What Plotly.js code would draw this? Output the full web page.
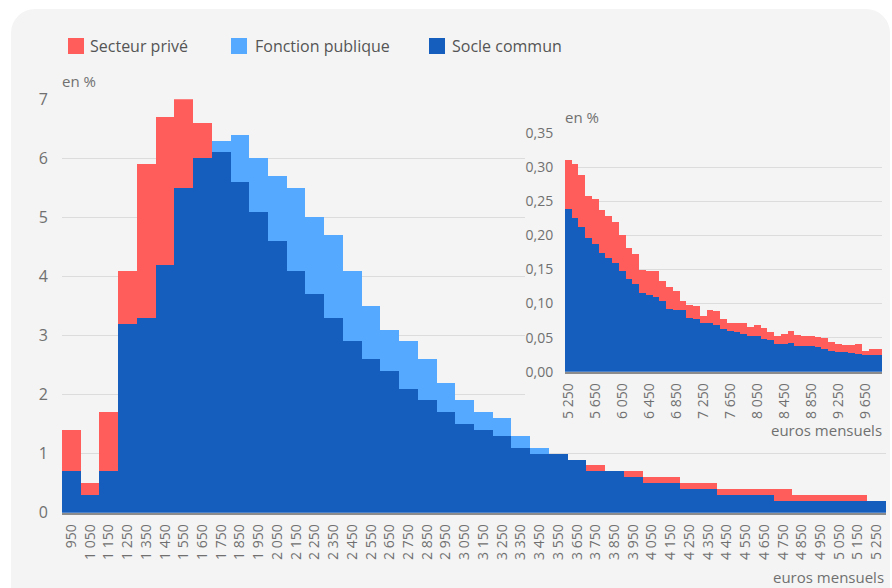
<!DOCTYPE html>
<html><head><meta charset="utf-8">
<script src="https://cdn.plot.ly/plotly-3.0.1.min.js"></script>
<style>
html,body{margin:0;padding:0;background:#fff;}
#wrap{position:relative;width:892px;height:588px;overflow:hidden;}
#card{position:absolute;left:11px;top:9px;width:879px;height:640px;background:#f4f4f4;border-radius:24px;}
#chart{position:absolute;left:0;top:0;width:892px;height:588px;}
</style></head><body>
<div id="wrap"><div id="card"></div><div id="chart"></div></div>
<script>
// ---- data ----
const seriesNames = ["Secteur privé", "Fonction publique", "Socle commun"];
const seriesColors = ["#ff5c5c", "#55aaff", "#155ebe"];

const mainLabels = ["950","1 050","1 150","1 250","1 350","1 450","1 550","1 650","1 750","1 850","1 950","2 050","2 150","2 250","2 350","2 450","2 550","2 650","2 750","2 850","2 950","3 050","3 150","3 250","3 350","3 450","3 550","3 650","3 750","3 850","3 950","4 050","4 150","4 250","4 350","4 450","4 550","4 650","4 750","4 850","4 950","5 050","5 150","5 250"];
const mainSocle = [0.7,0.3,0.7,3.2,3.3,4.2,5.5,6.0,6.1,5.6,5.1,4.6,4.1,3.7,3.3,2.9,2.6,2.4,2.1,1.9,1.7,1.5,1.4,1.3,1.1,1.0,1.0,0.9,0.7,0.7,0.6,0.5,0.5,0.4,0.4,0.3,0.3,0.3,0.2,0.2,0.2,0.2,0.2,0.2];
const mainPublic = [0,0,0,0,0,0,0,0,0.2,0.8,0.9,1.1,1.4,1.3,1.4,1.2,0.9,0.7,0.8,0.7,0.5,0.4,0.3,0.3,0.2,0.1,0,0,0,0,0,0,0,0,0,0,0,0,0,0,0,0,0,0];
const mainPrive = [0.7,0.2,1.0,0.9,2.6,2.5,1.5,0.6,0,0,0,0,0,0,0,0,0,0,0,0,0,0,0,0,0,0,0,0,0.1,0,0.1,0.1,0.1,0.1,0.1,0.1,0.1,0.1,0.2,0.1,0.1,0.1,0.1,0];

const insetLabels = ["5 250","5 350","5 450","5 550","5 650","5 750","5 850","5 950","6 050","6 150","6 250","6 350","6 450","6 550","6 650","6 750","6 850","6 950","7 050","7 150","7 250","7 350","7 450","7 550","7 650","7 750","7 850","7 950","8 050","8 150","8 250","8 350","8 450","8 550","8 650","8 750","8 850","8 950","9 050","9 150","9 250","9 350","9 450","9 550","9 650","9 750","9 850"];
const insetTickLabels = ["5 250","5 650","6 050","6 450","6 850","7 250","7 650","8 050","8 450","8 850","9 250","9 650"];
const insetSocle = [0.239,0.226,0.212,0.196,0.187,0.174,0.167,0.159,0.148,0.136,0.129,0.116,0.112,0.110,0.103,0.092,0.090,0.090,0.079,0.078,0.071,0.071,0.068,0.063,0.060,0.058,0.056,0.053,0.052,0.048,0.046,0.041,0.041,0.042,0.037,0.037,0.038,0.036,0.033,0.031,0.029,0.029,0.027,0.026,0.024,0.025,0.025];
const insetPrive = [0.071,0.079,0.076,0.062,0.067,0.063,0.062,0.060,0.052,0.045,0.043,0.033,0.035,0.038,0.030,0.032,0.029,0.013,0.019,0.018,0.010,0.020,0.021,0.015,0.012,0.014,0.015,0.012,0.016,0.016,0.012,0.011,0.014,0.017,0.017,0.015,0.014,0.015,0.016,0.013,0.012,0.010,0.012,0.014,0.007,0.008,0.009];

// ---- layout helpers ----
const W = 892, H = 588;
const px = x => x / W, py = y => 1 - y / H;
const FONT = '"Open Sans", sans-serif';
const TICK = '#707070';

function bar(x, y, color, xa, ya, name) {
  return {type:'bar', x:x, y:y, name:name, xaxis:xa, yaxis:ya, showlegend:false,
          marker:{color:color, line:{width:0}}, hoverinfo:'x+y+name'};
}

const data = [
  bar(mainLabels, mainSocle, seriesColors[2], 'x', 'y', seriesNames[2]),
  bar(mainLabels, mainPublic, seriesColors[1], 'x', 'y', seriesNames[1]),
  bar(mainLabels, mainPrive, seriesColors[0], 'x', 'y', seriesNames[0]),
  {type:'scatter', x:[null], y:[null], xaxis:'x2', yaxis:'y2', showlegend:false, hoverinfo:'skip'},
  bar(insetLabels, insetSocle, seriesColors[2], 'x3', 'y3', seriesNames[2]),
  bar(insetLabels, insetPrive, seriesColors[0], 'x3', 'y3', seriesNames[0])
];

function ann(text, x, y, xanchor, size, color) {
  return {text:text, xref:'paper', yref:'paper', x:px(x), y:py(y), xanchor:xanchor, yanchor:'middle',
          showarrow:false, font:{family:FONT, size:size, color:color}};
}
function sq(x, y, color) {
  return {type:'rect', xref:'paper', yref:'paper', x0:px(x), x1:px(x+16), y0:py(y+16), y1:py(y),
          fillcolor:color, line:{width:0}, layer:'above'};
}
const hidden = {showgrid:false, zeroline:false, showline:false, showticklabels:false, ticks:'', fixedrange:true, automargin:false};

const layout = {
  width:W, height:H, margin:{l:0,r:0,t:0,b:0},
  paper_bgcolor:'rgba(0,0,0,0)', plot_bgcolor:'#f4f4f4',
  font:{family:FONT, color:TICK},
  separators:', ',
  barmode:'stack', bargap:0, showlegend:false,
  xaxis:{domain:[px(62), px(886)], anchor:'y', type:'category', tickmode:'array', tickvals:mainLabels,
         tickangle:-90, tickfont:{size:14, color:TICK}, showgrid:false, zeroline:false,
         showline:true, linecolor:'#8c8c8c', linewidth:2, ticks:'outside', ticklen:4, tickcolor:'rgba(0,0,0,0)',
         fixedrange:true, automargin:false},
  yaxis:{domain:[py(512.7), py(99.3)], anchor:'x', range:[0,7], tick0:0, dtick:1,
         gridcolor:'#dcdcdc', gridwidth:1, zeroline:false, showline:false,
         tickfont:{size:16, color:TICK}, ticks:'outside', ticklen:10, tickcolor:'rgba(0,0,0,0)',
         fixedrange:true, automargin:false},
  xaxis2:Object.assign({domain:[px(525), px(889)], anchor:'y2', range:[0,1]}, hidden),
  yaxis2:Object.assign({domain:[py(425), py(104)], anchor:'x2', range:[0,1]}, hidden),
  xaxis3:{domain:[px(565), px(882)], anchor:'y3', type:'category', tickmode:'array', tickvals:insetTickLabels,
          tickangle:-90, tickfont:{size:14, color:TICK}, showgrid:false, zeroline:false,
          showline:true, linecolor:'#8c8c8c', linewidth:2, ticks:'outside', ticklen:4, tickcolor:'rgba(0,0,0,0)',
          fixedrange:true, automargin:false},
  yaxis3:{domain:[py(371.7), py(133)], anchor:'x3', range:[0,0.3501], tick0:0, dtick:0.05, tickformat:'.2f',
          gridcolor:'#dcdcdc', gridwidth:1, zeroline:false, showline:false,
          tickfont:{size:14, color:TICK}, ticks:'outside', ticklen:8, tickcolor:'rgba(0,0,0,0)',
          fixedrange:true, automargin:false},
  shapes:[ sq(68, 38, seriesColors[0]), sq(231, 38, seriesColors[1]), sq(429, 38, seriesColors[2]) ],
  annotations:[
    ann(seriesNames[0], 88, 46, 'left', 16, '#555555'),
    ann(seriesNames[1], 253, 46, 'left', 16, '#555555'),
    ann(seriesNames[2], 450, 46, 'left', 16, '#555555'),
    ann('en %', 60, 81, 'left', 15, TICK),
    ann('en %', 563, 117, 'left', 15, TICK),
    ann('euros mensuels', 886, 577, 'right', 15, TICK),
    ann('euros mensuels', 884, 430, 'right', 15, TICK)
  ]
};

Plotly.newPlot('chart', data, layout, {displayModeBar:false, staticPlot:true});
</script>
</body></html>
